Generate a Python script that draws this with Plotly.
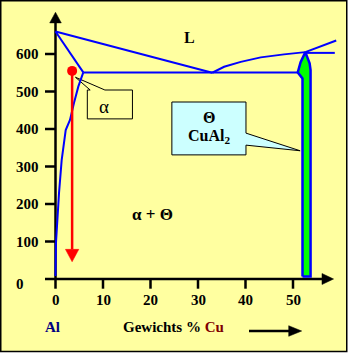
import plotly.graph_objects as go

# ---------------- data ----------------
x_ticks = [0, 10, 20, 30, 40, 50]
y_ticks = [0, 100, 200, 300, 400, 500, 600]

liquidus_al_x = [0, 33]
liquidus_al_y = [660, 550]
liquidus_cu_x = [33, 35.5, 39, 43.2, 48.1, 52.6]
liquidus_cu_y = [550, 566, 579, 591, 599, 605]
liquidus_ext_x = [52.6, 59.1]
liquidus_ext_y = [605, 636]
upper_line_x = [52.6, 58.8]
upper_line_y = [603, 603]
solidus_x = [0, 5.85]
solidus_y = [660, 551]
solvus_x = [5.85, 4.8, 3.96, 3.05, 2.15, 1.3, 0.74, 0.46, 0.1, 0.0]
solvus_y = [551, 513, 473, 424, 397, 317, 229, 157, 96, 8]
eutectic_x = [5.85, 51.0]
eutectic_y = [551, 551]
theta_x = [52.0, 52.0, 51.0, 51.6, 52.6, 53.5, 53.7, 53.7, 52.0]
theta_y = [7, 535, 551, 578, 605, 575, 557, 7, 7]
alloy_x = 3.5
alloy_t_start = 555
alloy_t_end = 46

# ---------------- geometry / layout constants ----------------
W, H = 348, 354
X0_PX, Y0_PX = 55.5, 279.0      # pixel of data origin
PX_X, PX_Y = 4.75, 0.375        # pixels per data unit
X_RANGE = [-X0_PX / PX_X, (W - X0_PX) / PX_X]
Y_RANGE = [(Y0_PX - H) / PX_Y, Y0_PX / PX_Y]

def dx(px):
    return px / PX_X

def dy(px):
    return px / PX_Y

BLUE = "#0000FF"
RED = "#FF0000"
GREEN = "#00FF00"
BG = "#FFFFA0"
CYAN = "#CCFFFF"
FONT = "Liberation Serif"

y_axis_top = 683
x_axis_left = -dx(10.5)
x_axis_right = 56.1

alpha_box = dict(x0=6.7, x1=16.2, y0=427, y1=504)
alpha_ptr = dict(a=7.3, b=10.4, tip_x=4.2, tip_y=538)
theta_box = dict(x0=24.5, x1=40.1, y0=331, y1=472)
theta_ptr = dict(a=389, b=357, tip_x=51.5, tip_y=342)

fig = go.Figure()

def line(xs, ys, color=BLUE, width=2):
    fig.add_trace(go.Scatter(x=xs, y=ys, mode="lines",
                             line=dict(color=color, width=width),
                             hoverinfo="skip", showlegend=False))

def poly(xs, ys, fill, color="black", width=1):
    fig.add_trace(go.Scatter(x=xs, y=ys, mode="lines", fill="toself",
                             fillcolor=fill,
                             line=dict(color=color, width=width),
                             hoverinfo="skip", showlegend=False))

def arrowhead(tx, ty, direction, length_px, half_px, color="black"):
    if direction == "up":
        xs = [tx - dx(half_px), tx + dx(half_px), tx, tx - dx(half_px)]
        ys = [ty - dy(length_px)] * 2 + [ty, ty - dy(length_px)]
    elif direction == "down":
        xs = [tx - dx(half_px), tx + dx(half_px), tx, tx - dx(half_px)]
        ys = [ty + dy(length_px)] * 2 + [ty, ty + dy(length_px)]
    else:  # right
        xs = [tx - dx(length_px)] * 2 + [tx, tx - dx(length_px)]
        ys = [ty - dy(half_px), ty + dy(half_px), ty, ty - dy(half_px)]
    poly(xs, ys, color, color, 0.5)

# ---- callout boxes ----
b, p = alpha_box, alpha_ptr
poly([b["x0"], b["x0"], p["a"], p["tip_x"], p["b"], b["x1"], b["x1"], b["x0"]],
     [b["y0"], b["y1"], b["y1"], p["tip_y"], b["y1"], b["y1"], b["y0"], b["y0"]],
     BG)
b, p = theta_box, theta_ptr
poly([b["x0"], b["x0"], b["x1"], b["x1"], p["tip_x"], b["x1"], b["x1"], b["x0"]],
     [b["y0"], b["y1"], b["y1"], p["a"], p["tip_y"], p["b"], b["y0"], b["y0"]],
     CYAN)

# ---- axes ----
line([0, 0], [0, y_axis_top], "black", 2.5)
arrowhead(0, y_axis_top + dy(10.6), "up", 10.6, 5.8)
line([x_axis_left, x_axis_right], [0, 0], "black", 2.5)
arrowhead(x_axis_right + dx(11.6), 0, "right", 11.6, 5.5)
for v in y_ticks[1:]:
    line([-dx(10.5), 0], [v, v], "black", 2.5)
for v in x_ticks:
    line([v, v], [0, -dy(9.7)], "black", 2.5)

# ---- phase boundaries ----
line(liquidus_al_x, liquidus_al_y)
line(liquidus_cu_x, liquidus_cu_y)
line(liquidus_ext_x, liquidus_ext_y)
line(upper_line_x, upper_line_y)
line(solidus_x, solidus_y)
line(solvus_x, solvus_y)
line(eutectic_x, eutectic_y)
poly(theta_x, theta_y, GREEN, BLUE, 2.5)

# ---- alloy cooling path ----
arrow_base = alloy_t_end + dy(12.4)
line([alloy_x, alloy_x], [alloy_t_start, arrow_base], RED, 2.5)
arrowhead(alloy_x, alloy_t_end, "down", 12.4, 6.7, RED)
fig.add_trace(go.Scatter(x=[alloy_x], y=[alloy_t_start], mode="markers",
                         marker=dict(color=RED, size=10, line=dict(width=0)),
                         hoverinfo="skip", showlegend=False))

# ---- bottom arrow ----
ax_y = -dy(331 - Y0_PX)
ax_x0, ax_tip = dx(249 - X0_PX), dx(301.7 - X0_PX)
line([ax_x0, ax_tip - dx(12)], [ax_y, ax_y], "black", 2.5)
arrowhead(ax_tip, ax_y, "right", 13, 5.3)

# ---- texts ----
ann = []
def text(x, y, s, size=15, color="black", bold=True, anchor="center"):
    if bold:
        s = "<b>" + s + "</b>"
    ann.append(dict(x=x, y=y, xref="x", yref="y", text=s, showarrow=False,
                    xanchor=anchor, yanchor="middle",
                    font=dict(family=FONT, size=size, color=color)))

for v in y_ticks:
    if v == 0:
        text(-dx(35.5), -dy(4.5), str(v))
    else:
        text(-dx(15), v, str(v), anchor="right")
for v in x_ticks:
    text(v, -dy(20.5), str(v))

text(28.3, 645, "L", 16)
text(10.2, 459, "α", 19, bold=False)
text(32.3, 432, "Θ", 16)
text(32.3, 379, "CuAl<sub>2</sub>", 16)
text(20.4, 172, "α + Θ", 17)
text(-dx(3), -dy(47.7), "Al", 15, "#000080")
text(dx(173 - X0_PX), -dy(48), "Gewichts % <span style='color:#800000'>Cu</span>", 15)

fig.update_layout(
    width=W, height=H, margin=dict(l=0, r=0, t=0, b=0),
    paper_bgcolor="white", plot_bgcolor="rgba(0,0,0,0)",
    xaxis=dict(range=X_RANGE, visible=False, fixedrange=True),
    yaxis=dict(range=Y_RANGE, visible=False, fixedrange=True),
    annotations=ann,
    shapes=[dict(type="rect", xref="paper", yref="paper",
                 x0=0.75 / W, x1=346.75 / W, y0=1 - 351.5 / H, y1=1 - 0.75 / H,
                 fillcolor=BG, line=dict(color="black", width=1.5), layer="below")],
)

fig.write_html("out.html", config={"displayModeBar": False})
